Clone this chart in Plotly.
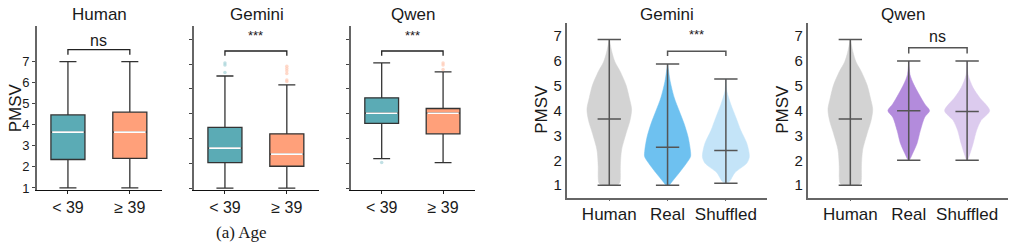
import plotly.graph_objects as go

W, H = 1015, 245

# ---------------- data ----------------
age_groups = ["< 39", "≥ 39"]
box_panels = ["Human", "Gemini", "Qwen"]
# per panel, per group: [lowerfence, q1, median, q3, upperfence]
box_stats = {
    "Human":  [[1.0, 2.35, 3.65, 4.47, 7.0], [1.0, 2.40, 3.65, 4.60, 7.0]],
    "Gemini": [[1.0, 2.03, 2.61, 3.45, 5.52], [1.0, 1.88, 2.37, 3.19, 5.16]],
    "Qwen":   [[2.19, 3.61, 4.02, 4.64, 6.05], [2.03, 3.19, 4.02, 4.21, 5.69]],
}
box_outliers = {
    "Human":  [[], []],
    "Gemini": [[5.66, 5.96, 6.05], [5.30, 5.36, 5.62, 5.73, 5.82, 5.91]],
    "Qwen":   [[2.03], [5.78, 5.96, 6.05]],
}
box_significance = {"Human": "ns", "Gemini": "***", "Qwen": "***"}
box_colors = ["#5BABB5", "#FFA07A"]
outlier_colors = ["#a6d3d9", "#ffc9b3"]

violin_categories = ["Human", "Real", "Shuffled"]
violin_panels = ["Gemini", "Qwen"]
# density profiles: (value levels, half-widths in category units)
human_levels = [1.0, 1.03, 1.1, 1.3, 1.76, 2.42, 3.07, 3.6, 4.06, 4.52, 5.04, 5.57, 5.96, 6.35, 6.87]
human_widths = [0.1, 0.15, 0.18, 0.19, 0.19, 0.211, 0.286, 0.355, 0.383, 0.343, 0.286, 0.189, 0.098, 0.046, 0.0]
gem_real_levels = [1.0, 1.17, 1.5, 1.89, 2.15, 2.42, 2.94, 3.46, 3.99, 4.52, 5.17, 5.88]
gem_real_widths = [0.03, 0.086, 0.2, 0.326, 0.394, 0.39, 0.352, 0.286, 0.2, 0.115, 0.046, 0.0]
gem_shuf_levels = [1.08, 1.17, 1.5, 1.89, 2.15, 2.68, 3.2, 3.73, 4.25, 4.78, 5.28]
gem_shuf_widths = [0.017, 0.069, 0.154, 0.36, 0.403, 0.36, 0.257, 0.172, 0.086, 0.017, 0.0]
qwen_real_levels = [2.0, 2.29, 2.68, 3.21, 3.74, 4.0, 4.27, 4.66, 5.06, 5.45, 6.0]
qwen_real_widths = [0.0, 0.069, 0.142, 0.2, 0.274, 0.357, 0.274, 0.177, 0.086, 0.022, 0.0]
qwen_shuf_levels = [2.0, 2.29, 2.68, 3.21, 3.61, 4.0, 4.53, 4.92, 5.45, 6.0]
qwen_shuf_widths = [0.0, 0.051, 0.103, 0.163, 0.24, 0.386, 0.214, 0.103, 0.017, 0.0]
# [min, median, max]
human_summary = [1.0, 3.66, 6.87]
gem_real_summary = [1.0, 2.53, 5.88]
gem_shuf_summary = [1.08, 2.40, 5.28]
qwen_real_summary = [2.0, 4.0, 6.0]
qwen_shuf_summary = [2.0, 3.97, 6.0]
violin_data = {
    "Gemini": [(human_levels, human_widths, human_summary),
               (gem_real_levels, gem_real_widths, gem_real_summary),
               (gem_shuf_levels, gem_shuf_widths, gem_shuf_summary)],
    "Qwen": [(human_levels, human_widths, human_summary),
             (qwen_real_levels, qwen_real_widths, qwen_real_summary),
             (qwen_shuf_levels, qwen_shuf_widths, qwen_shuf_summary)],
}
violin_colors = {"Gemini": ["#D3D3D3", "#6EC1F0", "#C4E4F8"],
                 "Qwen": ["#D3D3D3", "#B38BDC", "#DCCBEE"]}
violin_significance = {"Gemini": "***", "Qwen": "ns"}
y_ticks = [1, 2, 3, 4, 5, 6, 7]

# ---------------- layout helpers ----------------
def pxx(x):
    return x / W

def pyy(y):
    return 1 - y / H

FONT = "Liberation Sans"
TXT = "#1a1a1a"
fig = go.Figure()

box_xdom = [(37, 162), (194, 319), (351, 475)]
box_ydom = (27, 194)
box_yrange = {"Human": [0.9, 8.67], "Gemini": [0.92, 7.52], "Qwen": [0.92, 7.52]}
box_sig_y = {"Human": (7.33, 7.57, 7.98), "Gemini": (6.34, 6.53, 7.15), "Qwen": (6.34, 6.53, 7.15)}

vio_xdom = [(566.7, 766.7), (807.7, 1008)]
vio_ydom = (23, 201.7)
vio_sig_y = {"Gemini": (6.2, 6.39, 7.05), "Qwen": (6.3, 6.53, 6.97)}

annotations = []
BW = 0.55


def paper_text(x, y, text, size, family=FONT, angle=0):
    return dict(x=pxx(x), y=pyy(y), xref="paper", yref="paper", text=text,
                xanchor="center", yanchor="middle", textangle=angle, showarrow=False,
                font=dict(family=family, size=size, color=TXT))


for i, name in enumerate(box_panels):
    ax = "" if i == 0 else str(i + 1)
    xa, ya = "x" + ax, "y" + ax
    for g in range(2):
        lf, q1, med, q3, uf = box_stats[name][g]
        if box_outliers[name][g]:
            fig.add_trace(go.Scatter(
                x=[g] * len(box_outliers[name][g]), y=box_outliers[name][g], mode="markers",
                marker=dict(color=outlier_colors[g], size=3.5, opacity=0.7),
                showlegend=False, hoverinfo="skip", xaxis=xa, yaxis=ya))
        fig.add_trace(go.Box(
            x=[g], q1=[q1], median=[med], q3=[q3], lowerfence=[lf], upperfence=[uf],
            width=BW, fillcolor=box_colors[g], line=dict(color="#333333", width=1.3),
            whiskerwidth=0.5, boxpoints=False, showlegend=False, hoverinfo="skip",
            xaxis=xa, yaxis=ya))
        fig.add_trace(go.Scatter(
            x=[g - BW / 2 + 0.02, g + BW / 2 - 0.02], y=[med, med], mode="lines",
            line=dict(color="white", width=1.6), showlegend=False, hoverinfo="skip",
            xaxis=xa, yaxis=ya))
    lo, hi, ty = box_sig_y[name]
    fig.add_trace(go.Scatter(x=[0, 0, 1, 1], y=[lo, hi, hi, lo], mode="lines",
                             line=dict(color="#222", width=1.3), showlegend=False,
                             hoverinfo="skip", xaxis=xa, yaxis=ya))
    annotations.append(dict(x=0.5, y=ty, xref=xa, yref=ya, text=box_significance[name],
                            showarrow=False, xanchor="center", yanchor="middle",
                            font=dict(family=FONT, size=16 if name == "Human" else 13, color=TXT)))
    x0, x1 = box_xdom[i]
    fig.layout["xaxis" + ax] = dict(
        domain=[pxx(x0), pxx(x1)], range=[-0.5, 1.52], anchor=ya,
        tickvals=[0, 1], ticktext=age_groups, ticks="outside", ticklen=3,
        tickcolor="#222", showline=True, linecolor="#111", linewidth=1.3,
        showgrid=False, zeroline=False, fixedrange=True,
        tickfont=dict(family=FONT, size=16, color=TXT))
    fig.layout["yaxis" + ax] = dict(
        domain=[pyy(box_ydom[1]), pyy(box_ydom[0])], range=box_yrange[name], anchor=xa,
        tickvals=y_ticks, showticklabels=(i == 0), ticks="outside", ticklen=3,
        tickcolor="#444", showline=True, linecolor="#666", linewidth=1.8,
        showgrid=False, zeroline=False, fixedrange=True,
        tickfont=dict(family=FONT, size=13, color=TXT))
    annotations.append(paper_text((x0 + x1) / 2, 15, name, 17))

annotations.append(paper_text(15, 110.5, "PMSV", 17, angle=-90))

for j, name in enumerate(violin_panels):
    k = j + 4
    xa, ya = "x%d" % k, "y%d" % k
    for c, (levels, widths, summ) in enumerate(violin_data[name]):
        xs = [c + w for w in widths] + [c - w for w in reversed(widths)]
        ys = list(levels) + list(reversed(levels))
        fig.add_trace(go.Scatter(x=xs, y=ys, mode="lines", fill="toself",
                                 fillcolor=violin_colors[name][c],
                                 line=dict(color=violin_colors[name][c], width=0.5, shape="spline", smoothing=0.8),
                                 showlegend=False, hoverinfo="skip", xaxis=xa, yaxis=ya))
        mn, md, mx = summ
        cw = 0.2
        fig.add_trace(go.Scatter(
            x=[c, c, None, c - cw, c + cw, None, c - cw, c + cw, None, c - cw, c + cw],
            y=[mn, mx, None, mn, mn, None, mx, mx, None, md, md],
            mode="lines", line=dict(color="#555555", width=1.5),
            showlegend=False, hoverinfo="skip", xaxis=xa, yaxis=ya))
    lo, hi, ty = vio_sig_y[name]
    fig.add_trace(go.Scatter(x=[1, 1, 2, 2], y=[lo, hi, hi, lo], mode="lines",
                             line=dict(color="#555", width=1.5), showlegend=False,
                             hoverinfo="skip", xaxis=xa, yaxis=ya))
    annotations.append(dict(x=1.5, y=ty, xref=xa, yref=ya, text=violin_significance[name],
                            showarrow=False, xanchor="center", yanchor="middle",
                            font=dict(family=FONT, size=16 if violin_significance[name] == "ns" else 13, color=TXT)))
    x0, x1 = vio_xdom[j]
    fig.layout["xaxis%d" % k] = dict(
        domain=[pxx(x0), pxx(x1)], range=[-0.73, 2.7], anchor=ya,
        tickvals=[0, 1, 2], ticktext=violin_categories, ticks="outside", ticklen=2,
        tickcolor="#666", showline=True, linecolor="#666", linewidth=1.8,
        showgrid=False, zeroline=False, fixedrange=True, ticklabelstandoff=-2,
        tickfont=dict(family=FONT, size=17, color=TXT))
    fig.layout["yaxis%d" % k] = dict(
        domain=[pyy(vio_ydom[1]), pyy(vio_ydom[0])], range=[0.5, 7.55], anchor=xa,
        tickvals=y_ticks, ticks="", showline=True, linecolor="#666", linewidth=1.8,
        showgrid=False, zeroline=False, fixedrange=True,
        tickfont=dict(family=FONT, size=15, color=TXT))
    tx = 666.7 if j == 0 else 903
    annotations.append(paper_text(tx, 15, name, 17))
    annotations.append(paper_text(542 if j == 0 else 783, 112, "PMSV", 17, angle=-90))

annotations.append(paper_text(241, 237, "(a) Age", 17, family="Liberation Serif"))

fig.update_layout(width=W, height=H, margin=dict(l=0, r=0, t=0, b=0),
                  paper_bgcolor="white", plot_bgcolor="white",
                  annotations=annotations, showlegend=False)

fig.write_html("out.html", config={"displayModeBar": False})
